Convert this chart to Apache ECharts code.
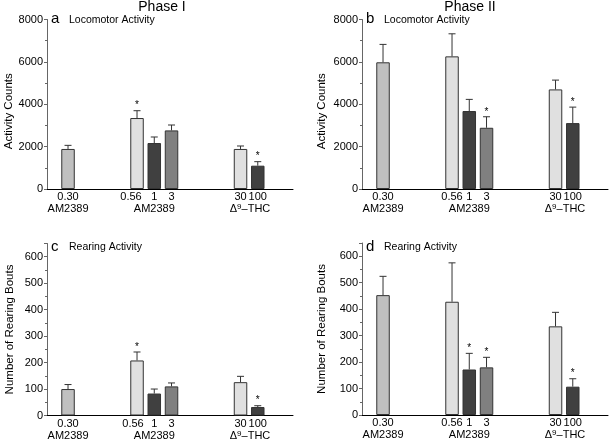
<!DOCTYPE html>
<html>
<head>
<meta charset="utf-8">
<script src="https://cdn.jsdelivr.net/npm/echarts@6/dist/echarts.min.js"></script>
<style>
  html, body { margin: 0; padding: 0; background: #fff; }
  #chart { width: 609px; height: 439px; }
</style>
</head>
<body>
<div id="chart"></div>
<script>
// ======================
// DATA
// ======================

// dose tick labels, blanks are spacer slots between groups
const doseLabels = ['0.30', '', '', '', '0.56', '1', '3', '', '', '', '30', '100'];
const groupLabels = ['AM2389', '', '', '', '', 'AM2389', '', '', '', '', 'Δ9–THC', ''];

const barColors = ['#c0c0c0', '#e0e0e0', '#404040', '#808080', '#e0e0e0', '#404040'];

const locoPhase1 = [1890, 3350, 2170, 2765, 1890, 1100];
const locoPhase1Err = [170, 345, 285, 255, 140, 190];
const locoPhase1Sig = [0, 1, 0, 0, 0, 1];

const locoPhase2 = [5980, 6260, 3680, 2890, 4700, 3110];
const locoPhase2Err = [845, 1065, 550, 520, 440, 755];
const locoPhase2Sig = [0, 0, 0, 1, 0, 1];

const rearPhase1 = [100, 208, 83, 110, 126, 32];
const rearPhase1Err = [17, 32, 17, 13, 22, 5];
const rearPhase1Sig = [0, 1, 0, 0, 0, 1];

const rearPhase2 = [453, 428, 172, 180, 335, 107];
const rearPhase2Err = [71, 147, 61, 38, 53, 30];
const rearPhase2Sig = [0, 0, 1, 1, 0, 1];

const locoTicks = { max: 8000, interval: 2000, top: 8000 };
const rearTicks = { max: 650, interval: 100, top: 600 };

// ======================
// LAYOUT
// ======================

const FONT = 'Liberation Sans, Arial, sans-serif';
const SLOT = 17.25;

const panels = [
    { letter: 'a', title: 'Locomotor Activity', yName: 'Activity Counts', ticks: locoTicks,
      values: locoPhase1, err: locoPhase1Err, sig: locoPhase1Sig,
      left: 47, top: 19.5, height: 169.5, nameGap: 26, nudge056: 12 },
    { letter: 'b', title: 'Locomotor Activity', yName: 'Activity Counts', ticks: locoTicks,
      values: locoPhase2, err: locoPhase2Err, sig: locoPhase2Sig,
      left: 362, top: 19.5, height: 169.5, nameGap: 34, nudge056: 0 },
    { letter: 'c', title: 'Rearing Activity', yName: 'Number of Rearing Bouts', ticks: rearTicks,
      values: rearPhase1, err: rearPhase1Err, sig: rearPhase1Sig,
      left: 47, top: 243.5, height: 172, nameGap: 31, nudge056: 8 },
    { letter: 'd', title: 'Rearing Activity', yName: 'Number of Rearing Bouts', ticks: rearTicks,
      values: rearPhase2, err: rearPhase2Err, sig: rearPhase2Sig,
      left: 362, top: 243, height: 172, nameGap: 34, nudge056: 0 },
];

const slotIndex = doseLabels.map((d, i) => (d ? i : -1)).filter(i => i >= 0);

const grid = [], xAxis = [], yAxis = [], series = [], title = [];

const plainText = { fontFamily: FONT, fontWeight: 'normal', color: '#000' };

title.push(
    { text: 'Phase I', left: 162, top: 0, textAlign: 'center', padding: 0,
      textStyle: { ...plainText, fontSize: 14 } },
    { text: 'Phase II', left: 470, top: 0, textAlign: 'center', padding: 0,
      textStyle: { ...plainText, fontSize: 14 } }
);

panels.forEach((p, k) => {
    const frame = { left: p.left, top: p.top, width: 246, height: p.height,
        containLabel: false, outerBoundsMode: 'none' };
    const bars = { left: p.left + 12.4, top: p.top, width: SLOT * doseLabels.length, height: p.height,
        containLabel: false, outerBoundsMode: 'none' };
    grid.push(frame, bars);
    const gf = k * 2, gb = k * 2 + 1;

    // frame axes: x line + y ticks/labels
    xAxis.push({
        gridIndex: gf, type: 'value', min: 0, max: 1,
        axisLine: { show: true, lineStyle: { color: '#000', width: 1 } },
        axisTick: { show: false }, axisLabel: { show: false }, splitLine: { show: false },
    });
    yAxis.push({
        gridIndex: gf, type: 'value', min: 0, max: p.ticks.max, interval: p.ticks.interval,
        name: p.yName, nameLocation: 'middle', nameGap: p.nameGap,
        nameTextStyle: { ...plainText, fontSize: 11.5,
            padding: p.ticks === locoTicks ? [0, 14, 0, 0] : 0 },
        axisLine: { show: true, lineStyle: { color: '#666', width: 1 } },
        axisTick: { show: true, length: 3, lineStyle: { color: '#666' } },
        minorTick: { show: true, splitNumber: 2, length: 2, lineStyle: { color: '#666' } },
        axisLabel: {
            ...plainText, fontSize: 11, margin: 4,
            formatter: v => (v % p.ticks.interval === 0 && v <= p.ticks.top ? String(v) : ''),
        },
        splitLine: { show: false },
    });

    // bar axes
    xAxis.push({
        gridIndex: gb, type: 'category', data: doseLabels,
        axisLine: { show: false }, axisTick: { show: false }, splitLine: { show: false },
        axisLabel: {
            interval: 0, margin: 2, ...plainText, fontSize: 11, lineHeight: 12,
            formatter: (v, i) => {
                const g = groupLabels[i];
                if (v === '0.56' && p.nudge056) return '{n|' + v + '}';
                if (!g) return v;
                if (g.indexOf('THC') >= 0) return v + '\n{d|Δ}{s|9}{g|–THC}';
                return v + '\n' + g;
            },
            rich: {
                n: { ...plainText, fontSize: 11, lineHeight: 12, padding: [0, p.nudge056, 0, 0] },
                d: { ...plainText, fontSize: 11, lineHeight: 12, padding: [0, 0, 0, 19] },
                s: { ...plainText, fontSize: 8, lineHeight: 12, verticalAlign: 'top' },
                g: { ...plainText, fontSize: 11, lineHeight: 12 },
            },
        },
    });
    yAxis.push({ gridIndex: gb, type: 'value', min: 0, max: p.ticks.max, show: false });

    series.push({
        type: 'bar', xAxisIndex: gb, yAxisIndex: gb,
        barWidth: 13.5,
        data: doseLabels.map((d, i) => {
            const j = slotIndex.indexOf(i);
            if (j < 0) return '-';
            return { value: p.values[j], itemStyle: { color: barColors[j] } };
        }),
        itemStyle: { borderColor: '#333', borderWidth: 1 },
        silent: true,
    });

    // error whiskers (upper only) and significance stars
    series.push({
        type: 'custom', xAxisIndex: gb, yAxisIndex: gb, z: 5, silent: true,
        data: slotIndex.map((i, j) => [i, p.values[j], p.err[j], p.sig[j]]),
        renderItem: (params, api) => {
            const x = api.value(0), m = api.value(1), e = api.value(2), s = api.value(3);
            const p0 = api.coord([x, m]);
            const p1 = api.coord([x, m + e]);
            const style = { stroke: '#333', lineWidth: 1 };
            const children = [
                { type: 'line', shape: { x1: p0[0], y1: p0[1], x2: p1[0], y2: p1[1] }, style },
                { type: 'line', shape: { x1: p1[0] - 3.5, y1: p1[1], x2: p1[0] + 3.5, y2: p1[1] }, style },
            ];
            if (s) {
                children.push({
                    type: 'text', x: p1[0], y: p1[1] - 5,
                    style: { text: '*', fontFamily: FONT, fontSize: 10, fill: '#000',
                        align: 'center', verticalAlign: 'middle' },
                });
            }
            return { type: 'group', children };
        },
    });

    // panel letter and caption
    const capTop = p.top < 100 ? 14.5 : 242;
    title.push(
        { text: p.letter, left: p.left + 4, top: capTop - 3, padding: 0,
          textStyle: { ...plainText, fontSize: 15 } },
        { text: p.title, left: p.left + 22, top: capTop, padding: 0,
          textStyle: { ...plainText, fontSize: 10.5 } }
    );
});

// ======================
// CHART
// ======================

const chart = echarts.init(document.getElementById('chart'), null, { renderer: 'canvas' });
chart.setOption({
    animation: false,
    backgroundColor: '#fff',
    title, grid, xAxis, yAxis, series,
});
</script>
</body>
</html>
